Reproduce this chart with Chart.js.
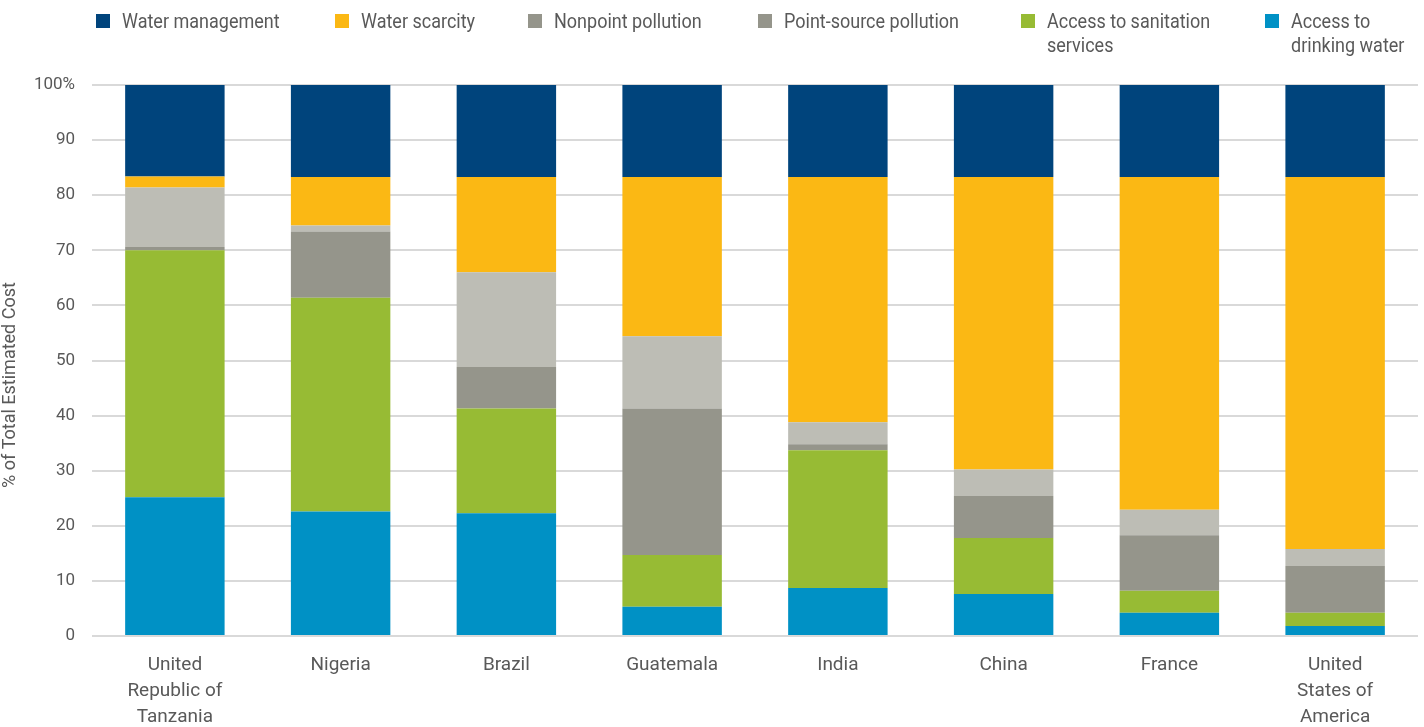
<!DOCTYPE html>
<html>
<head>
<meta charset="utf-8">
<script src="https://cdn.jsdelivr.net/npm/chart.js@4"></script>
<style>
  html, body { margin: 0; padding: 0; background: #fff; }
  #wrap { position: relative; width: 1424px; height: 727px; }
  #legend { position: absolute; left: 0; top: 0; width: 1424px; height: 70px; z-index: 2; }
  .lg-item { position: absolute; top: 9px; display: flex; align-items: flex-start; }
  .lg-box { width: 14px; height: 14px; margin-top: 5px; margin-right: 12px; flex: none; }
  .lg-text { font-family: Roboto, sans-serif; font-size: 20px; line-height: 24px; color: #595959; white-space: nowrap; display: inline-block; transform: scaleX(0.9); transform-origin: left top; }
  canvas { position: absolute; left: 0; top: 0; }
</style>
</head>
<body>
<div id="wrap">
  <div id="legend"></div>
  <canvas id="chart" width="1424" height="727"></canvas>
</div>
<script>
'use strict';

const FONT = "Roboto, sans-serif";
const TEXT_COLOR = '#595959';

// categorias (países)
const countries = [
    ['United', 'Republic of', 'Tanzania'],
    'Nigeria',
    'Brazil',
    'Guatemala',
    'India',
    'China',
    'France',
    ['United', 'States of', 'America']
];

// valores em % do custo total, de baixo para cima
const drinkingWater   = [25.2, 22.6, 22.3, 5.3, 8.7, 7.6, 4.2, 1.8];
const sanitation      = [44.8, 38.8, 19.0, 9.4, 25.0, 10.2, 4.0, 2.4];
const pointSource     = [0.6, 12.0, 7.5, 26.6, 1.1, 7.6, 10.1, 8.5];
const nonpoint        = [10.8, 1.1, 17.2, 13.1, 4.0, 4.8, 4.6, 3.1];
const waterScarcity   = [2.0, 8.8, 17.3, 28.9, 44.5, 53.1, 60.4, 67.5];
const waterManagement = [16.7, 16.7, 16.7, 16.7, 16.7, 16.7, 16.7, 16.7];

const yTicks = [0, 10, 20, 30, 40, 50, 60, 70, 80, 90, 100];

// legenda (ordem do topo), com quebras de linha como no original
const legendItems = [
    { label: ['Water management'], color: '#00447C', x: 96 },
    { label: ['Water scarcity'], color: '#FBB814', x: 335 },
    { label: ['Nonpoint pollution'], color: '#95958B', x: 528 },
    { label: ['Point-source pollution'], color: '#95958B', x: 758 },
    { label: ['Access to sanitation', 'services'], color: '#97BB34', x: 1021 },
    { label: ['Access to', 'drinking water'], color: '#0091C5', x: 1265 }
];

function renderLegend() {
    const el = document.getElementById('legend');
    el.innerHTML = legendItems.map(it => `
        <div class="lg-item" style="left:${it.x}px">
            <span class="lg-box" style="background:${it.color}"></span>
            <span class="lg-text">${it.label.join('<br>')}</span>
        </div>`).join('');
}

renderLegend();

const ds = (label, data, color) => ({
    label, data, backgroundColor: color, borderWidth: 0,
    barPercentage: 0.6, categoryPercentage: 1.0
});

// espaços no fim empurram o título um pouco para baixo, como no original
const yTitle = '% of Total Estimated Cost' + '\u00A0'.repeat(11);

new Chart(document.getElementById('chart').getContext('2d'), {
    type: 'bar',
    data: {
        labels: countries,
        datasets: [
            ds('Access to drinking water', drinkingWater, '#0091C5'),
            ds('Access to sanitation services', sanitation, '#97BB34'),
            ds('Point-source pollution', pointSource, '#95958B'),
            ds('Nonpoint pollution', nonpoint, '#BDBDB5'),
            ds('Water scarcity', waterScarcity, '#FBB814'),
            ds('Water management', waterManagement, '#00447C')
        ]
    },
    options: {
        responsive: false,
        animation: false,
        layout: { padding: { top: 85, right: 6, left: 0, bottom: 0 } },
        plugins: {
            legend: { display: false },
            tooltip: { enabled: false }
        },
        scales: {
            x: {
                stacked: true,
                grid: { display: false, drawTicks: false },
                border: { display: false },
                ticks: {
                    color: TEXT_COLOR,
                    font: { family: FONT, size: 19, lineHeight: 1.37 },
                    padding: 16,
                    maxRotation: 0,
                    autoSkip: false
                },
                afterFit: (s) => { s.height = 91; }
            },
            y: {
                stacked: true,
                min: 0,
                max: 100,
                afterBuildTicks: (s) => { s.ticks = yTicks.map(v => ({ value: v })); },
                grid: { color: '#D9D9D9', lineWidth: 2, drawTicks: false },
                border: { display: false },
                ticks: {
                    color: TEXT_COLOR,
                    font: { family: FONT, size: 17 },
                    padding: 17,
                    callback: (v) => v === 100 ? '100%' : v
                },
                title: {
                    display: true,
                    text: yTitle,
                    color: TEXT_COLOR,
                    font: { family: FONT, size: 18 },
                    padding: 0
                },
                afterFit: (s) => { s.width = 92; }
            }
        }
    }
});
</script>
</body>
</html>
